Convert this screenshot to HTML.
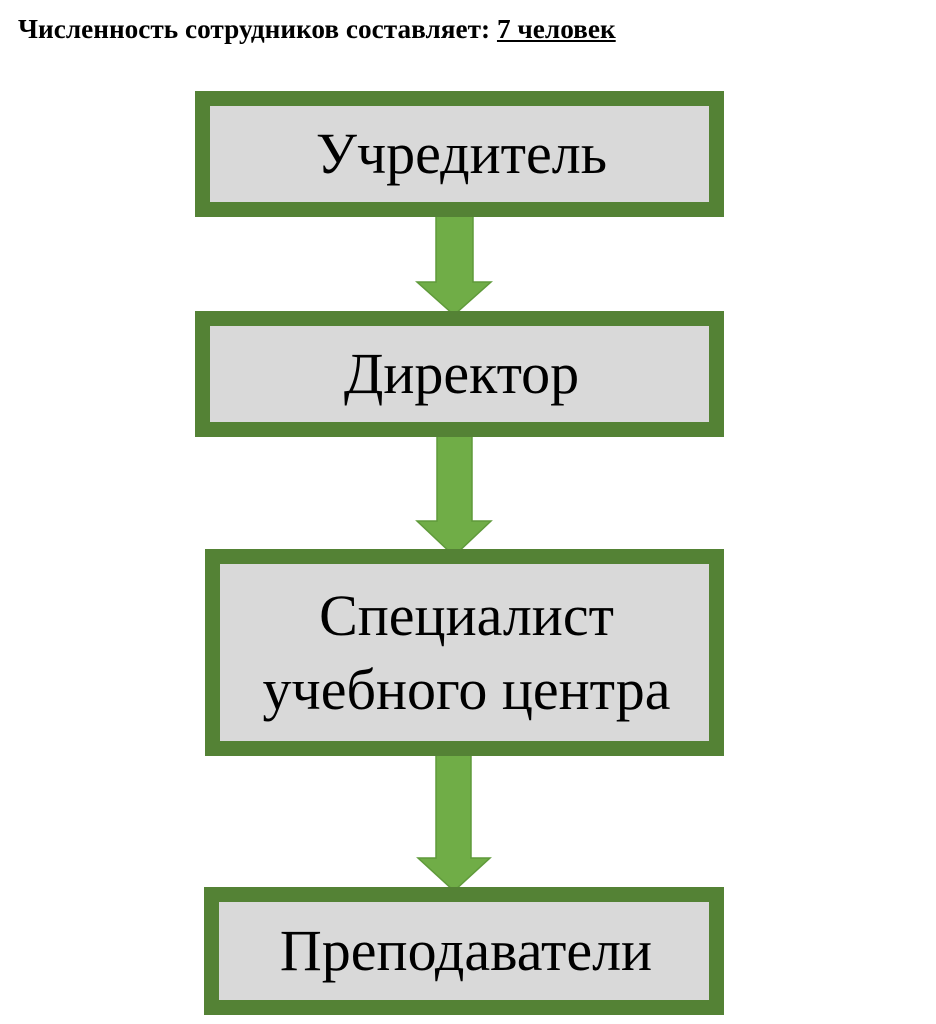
<!DOCTYPE html>
<html><head><meta charset="utf-8"><style>
body{margin:0;width:936px;height:1024px;background:#fff;position:relative;overflow:hidden;font-family:"Liberation Serif",serif}
.t{position:absolute;left:18px;top:14px;font-size:27px;font-weight:bold;white-space:nowrap;transform:scaleX(1.01);transform-origin:left top}
.b{position:absolute;box-sizing:border-box;border:15px solid #548235;background:#d9d9d9;display:flex;align-items:center;justify-content:center;text-align:center;font-size:58px;line-height:74px;color:#000;padding-left:4px}
svg{position:absolute;left:0;top:0}
</style></head><body>
<div class="t">Численность сотрудников составляет: <u>7 человек</u></div>
<svg width="936" height="1024">
<g fill="#70ad47" stroke="#5f9a3a" stroke-width="1.5">
<polygon points="436,211 473,211 473,282 491,282 454,315 417,282 436,282"/>
<polygon points="437,431 472,431 472,521 491,521 454,556 417,521 437,521"/>
<polygon points="436,751 471,751 471,858 490,858 454,891 418,858 436,858"/>
</g></svg>
<div class="b" style="left:195px;top:91px;width:529px;height:126px">Учредитель</div>
<div class="b" style="left:195px;top:311px;width:529px;height:126px">Директор</div>
<div class="b" style="left:205px;top:549px;width:519px;height:207px">Специалист<br>учебного центра</div>
<div class="b" style="left:204px;top:887px;width:520px;height:128px">Преподаватели</div>
</body></html>
